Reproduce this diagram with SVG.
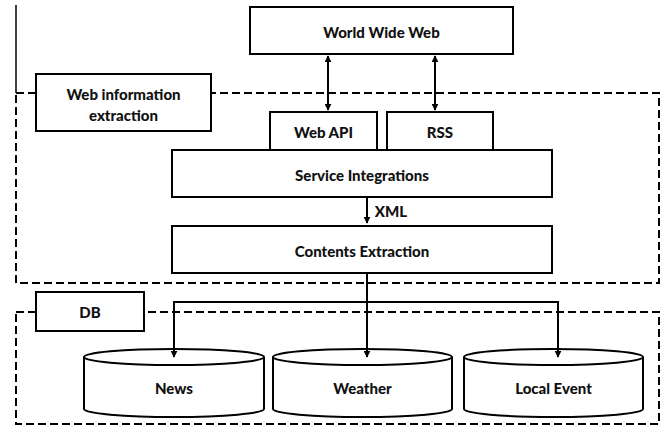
<svg xmlns="http://www.w3.org/2000/svg" width="665" height="426" viewBox="0 0 665 426">
  <style>
    .box { fill: #fff; stroke: #000; stroke-width: 2; }
    .dash { fill: none; stroke: #000; stroke-width: 2; stroke-dasharray: 8 4; }
    .wire { fill: none; stroke: #000; stroke-width: 2; }
    .lbl { font-family: Lato, "Open Sans", "Liberation Sans", sans-serif; font-weight: 900; font-size: 15px; fill: #111; text-anchor: middle; dominant-baseline: central; }
  </style>
  <defs>
    <marker id="head" viewBox="0 0 10 10" refX="9" refY="5" markerWidth="3.5" markerHeight="3.5" orient="auto-start-reverse">
      <path d="M0 0 L10 5 L0 10 z" fill="#000"/>
    </marker>
  </defs>

  <!-- background -->
  <rect x="0" y="0" width="665" height="426" fill="#fff"/>

  <!-- group frames -->
  <g id="frames">
    <line x1="16" y1="5" x2="16" y2="93" stroke="#000" stroke-width="1.5"/>
    <rect class="dash" x="16" y="93" width="643" height="190"/>
    <rect class="dash" x="16" y="312" width="643" height="112"/>
  </g>

  <g id="web-info-label">
    <rect class="box" x="36" y="74" width="175" height="57"/>
    <text class="lbl" x="123.5" y="94">Web information</text>
    <text class="lbl" x="123.5" y="115">extraction</text>
  </g>

  <g id="db-label">
    <rect class="box" x="36" y="292" width="108" height="39"/>
    <text class="lbl" x="90" y="312">DB</text>
  </g>

  <g id="www">
    <rect class="box" x="250" y="7" width="263" height="47"/>
    <text class="lbl" x="381.5" y="32">World Wide Web</text>
  </g>

  <g id="web-api">
    <rect class="box" x="270" y="112" width="107" height="38"/>
    <text class="lbl" x="323.5" y="132">Web API</text>
  </g>

  <g id="rss">
    <rect class="box" x="387" y="112" width="106" height="38"/>
    <text class="lbl" x="440" y="132">RSS</text>
  </g>

  <g id="service-integrations">
    <rect class="box" x="172" y="150" width="380" height="47"/>
    <text class="lbl" x="362" y="175">Service Integrations</text>
  </g>

  <g id="contents-extraction">
    <rect class="box" x="172" y="226" width="380" height="47"/>
    <text class="lbl" x="362" y="251">Contents Extraction</text>
  </g>

  <!-- data stores -->
  <g id="news">
    <path class="box" d="M84 357 L84 409 A90 8 0 0 0 264 409 L264 357"/>
    <ellipse class="box" cx="174" cy="357" rx="90" ry="8"/>
    <text class="lbl" x="174" y="388">News</text>
  </g>
  <g id="weather">
    <path class="box" d="M273 357 L273 409 A89.5 8 0 0 0 452 409 L452 357"/>
    <ellipse class="box" cx="362.5" cy="357" rx="89.5" ry="8"/>
    <text class="lbl" x="362.5" y="388">Weather</text>
  </g>
  <g id="local-event">
    <path class="box" d="M464 357 L464 409 A89.5 8 0 0 0 643 409 L643 357"/>
    <ellipse class="box" cx="553.5" cy="357" rx="89.5" ry="8"/>
    <text class="lbl" x="553.5" y="388">Local Event</text>
  </g>

  <!-- connectors -->
  <g id="connectors">
    <line class="wire" x1="328" y1="56" x2="328" y2="110" marker-start="url(#head)" marker-end="url(#head)"/>
    <line class="wire" x1="435" y1="56" x2="435" y2="110" marker-start="url(#head)" marker-end="url(#head)"/>
    <line class="wire" x1="367" y1="197" x2="367" y2="223" marker-end="url(#head)"/>
    <text class="lbl" x="391" y="211">XML</text>
    <line class="wire" x1="367" y1="273" x2="367" y2="357" marker-end="url(#head)"/>
    <polyline class="wire" points="174,357 174,302 558,302 558,357" marker-start="url(#head)" marker-end="url(#head)"/>
  </g>
</svg>
